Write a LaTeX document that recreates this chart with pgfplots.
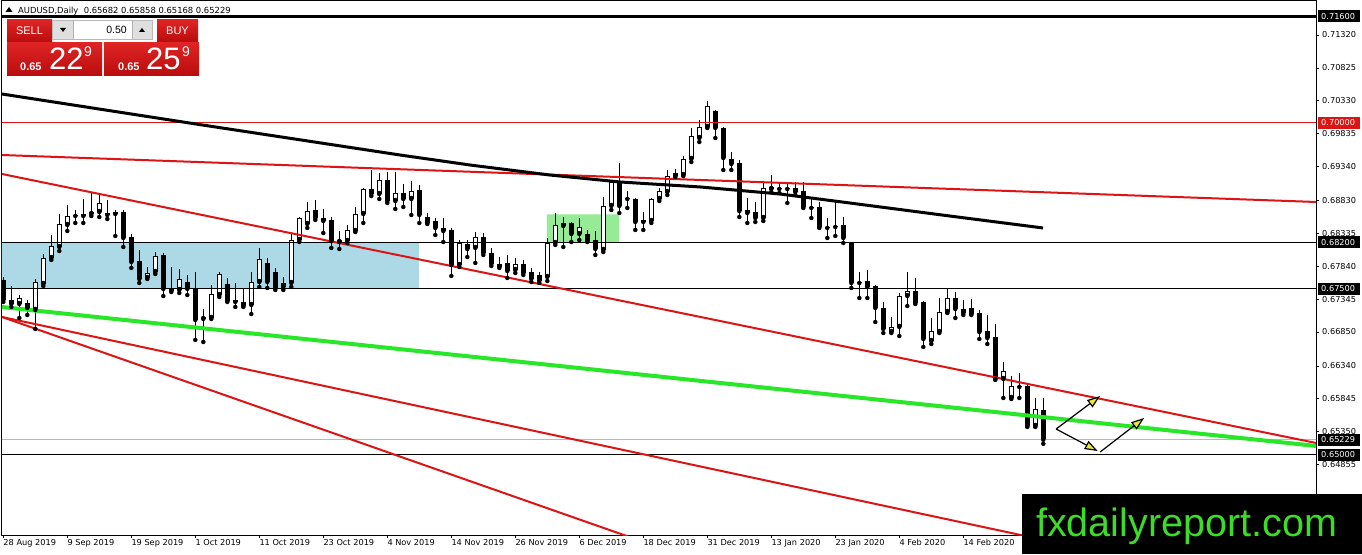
\documentclass[border=0pt]{standalone}
\usepackage{pgfplots}
\pgfplotsset{compat=1.18}
\usepackage{pgfplotstable}
\usepackage{fontspec}
\setmainfont{DejaVu Sans}
\newfontfamily\lib{Liberation Sans}
\usetikzlibrary{arrows.meta}
\definecolor{mtred}{RGB}{220,20,20}
\definecolor{mtgreen}{RGB}{40,230,40}
\definecolor{boxblue}{RGB}{173,216,230}
\definecolor{boxgreen}{RGB}{150,236,150}
\definecolor{wmgreen}{RGB}{60,220,40}
\definecolor{arrowyellow}{RGB}{235,235,40}
\definecolor{btnA}{RGB}{222,36,36}
\definecolor{btnB}{RGB}{185,12,12}
\definecolor{lightgr}{RGB}{185,185,185}

\pgfplotstableread{
i o h l c
0 0.67633 0.67678 0.67302 0.67332
1 0.67332 0.67543 0.67227 0.67272
3 0.67287 0.67332 0.67106 0.67212
9 0.68611 0.68687 0.68491 0.68596
10 0.68626 0.68852 0.68491 0.68596
13 0.68641 0.68837 0.68551 0.68611
14 0.68656 0.68687 0.68295 0.68626
15 0.68656 0.68687 0.68130 0.68265
16 0.68280 0.68325 0.67814 0.67904
17 0.67919 0.68085 0.67588 0.67648
20 0.68009 0.68039 0.67392 0.67498
21 0.67513 0.67829 0.67452 0.67467
23 0.67603 0.67708 0.67407 0.67498
24 0.67498 0.67753 0.66730 0.67031
28 0.67573 0.67663 0.67302 0.67317
29 0.67332 0.67588 0.67227 0.67302
30 0.67302 0.67513 0.67227 0.67242
33 0.67889 0.67964 0.67513 0.67603
34 0.67753 0.67814 0.67483 0.67513
39 0.68687 0.68837 0.68536 0.68566
40 0.68566 0.68702 0.68340 0.68521
41 0.68536 0.68581 0.68115 0.68220
46 0.69003 0.69289 0.68897 0.68927
48 0.69138 0.69258 0.68792 0.68822
50 0.68942 0.69078 0.68732 0.68852
52 0.68988 0.69063 0.68491 0.68611
53 0.68581 0.68641 0.68476 0.68491
54 0.68521 0.68566 0.68310 0.68416
55 0.68416 0.68566 0.68205 0.68370
56 0.68386 0.68416 0.67693 0.67859
58 0.68175 0.68235 0.67979 0.68100
60 0.68280 0.68340 0.68009 0.68039
61 0.68039 0.68115 0.67844 0.67874
62 0.67874 0.67979 0.67814 0.67829
63 0.67889 0.68009 0.67663 0.67768
65 0.67874 0.67934 0.67708 0.67738
66 0.67753 0.67814 0.67603 0.67648
67 0.67708 0.67753 0.67588 0.67618
70 0.68491 0.68581 0.68130 0.68446
71 0.68491 0.68506 0.68205 0.68325
73 0.68325 0.68386 0.68205 0.68220
74 0.68235 0.68370 0.68009 0.68100
77 0.69108 0.69394 0.68641 0.68747
78 0.68867 0.68972 0.68717 0.68852
79 0.68852 0.68867 0.68386 0.68506
80 0.68536 0.68656 0.68386 0.68506
89 0.70176 0.70191 0.69770 0.69921
90 0.69921 0.69936 0.69289 0.69469
91 0.69454 0.69559 0.69289 0.69379
92 0.69394 0.69439 0.68581 0.68671
93 0.68687 0.68867 0.68491 0.68641
94 0.68656 0.68807 0.68506 0.68566
97 0.69018 0.69108 0.68942 0.69003
98 0.69018 0.69093 0.68792 0.69003
99 0.69018 0.69108 0.68912 0.68957
100 0.68972 0.69108 0.68717 0.68732
101 0.68732 0.68882 0.68566 0.68717
102 0.68732 0.68807 0.68416 0.68431
103 0.68431 0.68566 0.68265 0.68416
104 0.68446 0.68807 0.68295 0.68431
105 0.68461 0.68581 0.68190 0.68265
106 0.68190 0.68205 0.67513 0.67588
107 0.67603 0.67753 0.67362 0.67588
108 0.67618 0.67784 0.67362 0.67528
109 0.67543 0.67558 0.67001 0.67212
110 0.67212 0.67302 0.66835 0.66896
114 0.67467 0.67663 0.67272 0.67287
115 0.67302 0.67317 0.66625 0.66745
119 0.67362 0.67452 0.67061 0.67197
120 0.67197 0.67332 0.67106 0.67136
121 0.67212 0.67347 0.67106 0.67121
122 0.67136 0.67182 0.66745 0.66850
123 0.66865 0.67106 0.66670 0.66760
124 0.66775 0.66971 0.66128 0.66143
127 0.66038 0.66233 0.65857 0.66023
128 0.66038 0.66068 0.65421 0.65436
130 0.65682 0.65858 0.65168 0.65229
}\bear

\pgfplotstableread{
i o h l c
2 0.67272 0.67407 0.67061 0.67362
4 0.67182 0.67648 0.66896 0.67603
5 0.67573 0.68024 0.67543 0.67964
6 0.67964 0.68310 0.67934 0.68145
7 0.68130 0.68626 0.68069 0.68476
8 0.68461 0.68762 0.68370 0.68596
11 0.68626 0.68942 0.68596 0.68656
12 0.68656 0.68912 0.68581 0.68792
18 0.67663 0.67829 0.67648 0.67738
19 0.67753 0.68054 0.67723 0.67994
22 0.67483 0.67799 0.67437 0.67648
25 0.67046 0.67197 0.66700 0.67076
26 0.67061 0.67558 0.67046 0.67422
27 0.67407 0.67753 0.67377 0.67723
31 0.67257 0.67753 0.67121 0.67603
32 0.67603 0.68115 0.67528 0.67949
35 0.67528 0.67678 0.67483 0.67588
36 0.67588 0.68325 0.67528 0.68235
37 0.68235 0.68581 0.68205 0.68566
38 0.68476 0.68807 0.68416 0.68671
42 0.68205 0.68370 0.68100 0.68235
43 0.68220 0.68461 0.68190 0.68386
44 0.68370 0.68732 0.68355 0.68626
45 0.68626 0.69018 0.68491 0.69003
47 0.68927 0.69243 0.68852 0.69138
49 0.68822 0.69258 0.68702 0.68942
51 0.68852 0.69123 0.68611 0.68972
57 0.67859 0.68235 0.67829 0.68190
59 0.68115 0.68355 0.67889 0.68280
64 0.67784 0.67964 0.67738 0.67874
68 0.67678 0.68265 0.67618 0.68190
69 0.68190 0.68641 0.68160 0.68461
72 0.68325 0.68566 0.68235 0.68431
75 0.68085 0.68882 0.68054 0.68747
76 0.68747 0.69138 0.68687 0.69108
81 0.68521 0.68867 0.68491 0.68852
82 0.68852 0.69018 0.68822 0.68972
83 0.68957 0.69289 0.68912 0.69198
84 0.69198 0.69304 0.69183 0.69243
85 0.69213 0.69499 0.69198 0.69454
86 0.69454 0.69921 0.69409 0.69800
87 0.69770 0.70041 0.69710 0.69936
88 0.69936 0.70327 0.69921 0.70252
95 0.68566 0.69093 0.68521 0.69018
96 0.69003 0.69213 0.68957 0.69033
111 0.66850 0.67076 0.66835 0.66926
112 0.66926 0.67437 0.66790 0.67392
113 0.67392 0.67753 0.67242 0.67467
116 0.66715 0.67061 0.66670 0.66865
117 0.66850 0.67362 0.66835 0.67151
118 0.67151 0.67513 0.67136 0.67362
125 0.66143 0.66399 0.65857 0.66263
126 0.65857 0.66188 0.65842 0.66038
129 0.65436 0.65857 0.65421 0.65692
}\bull

\begin{document}
\begin{tikzpicture}[x=1pt,y=1pt]
\useasboundingbox (0,0) rectangle (1362,554);
\fill[white] (0,0) rectangle (1362,554);
\begin{axis}[
  at={(2pt,19pt)}, anchor=south west,
  scale only axis, width=1314pt, height=534pt,
  xmin=-0.1625, xmax=164.0875, ymin=0.63795, ymax=0.71832,
  axis line style={black, line width=1pt},
  tick align=outside, major tick length=3pt,
  tick style={black, line width=0.8pt},
  xtick pos=bottom, ytick pos=right, yticklabel pos=right,
  xtick={0,8,...,120},
  xticklabels={28 Aug 2019, 9 Sep 2019, 19 Sep 2019, 1 Oct 2019, 11 Oct 2019, 23 Oct 2019, 4 Nov 2019, 14 Nov 2019, 26 Nov 2019, 6 Dec 2019, 18 Dec 2019, 31 Dec 2019, 13 Jan 2020, 23 Jan 2020, 4 Feb 2020, 14 Feb 2020},
  ytick={0.64360,0.64855,0.65350,0.65845,0.66340,0.66850,0.67345,0.67840,0.68335,0.68830,0.69340,0.69835,0.70330,0.70825,0.71320},
  scaled y ticks=false,
  yticklabel style={/pgf/number format/fixed, /pgf/number format/fixed zerofill, /pgf/number format/precision=5, /pgf/number format/assume math mode=true, anchor=west, inner sep=0pt, xshift=3pt},
  xticklabel style={anchor=north west, inner sep=0pt, yshift=-1pt},
  every tick label/.append style={font=\fontsize{8.2}{9}\selectfont},
]
% rectangles
\addplot[fill=boxblue, draw=none] coordinates {(-1,0.675) (51.96,0.675) (51.96,0.682) (-1,0.682) (-1,0.675)};
\addplot[fill=boxgreen, draw=none] coordinates {(67.96,0.682) (76.96,0.682) (76.96,0.6862) (67.96,0.6862) (67.96,0.682)};
% candles: wicks
\addplot[only marks, mark=none, error bars/.cd, y dir=plus, y explicit, error mark=none, error bar style={black, line width=1pt}] table[x=i, y=l, y error expr=\thisrow{h}-\thisrow{l}] {\bear};
\addplot[only marks, mark=none, error bars/.cd, y dir=plus, y explicit, error mark=none, error bar style={black, line width=1pt}] table[x=i, y=l, y error expr=\thisrow{h}-\thisrow{l}] {\bull};
% bear bodies
\addplot[only marks, mark=none, error bars/.cd, y dir=plus, y explicit, error mark=none, error bar style={black, line width=5pt}] table[x=i, y=c, y error expr=\thisrow{o}-\thisrow{c}] {\bear};
% bull bodies
\addplot[only marks, mark=none, error bars/.cd, y dir=plus, y explicit, error mark=none, error bar style={black, line width=5pt}] table[x=i, y=o, y error expr=\thisrow{c}-\thisrow{o}] {\bull};
\addplot[only marks, mark=none, error bars/.cd, y dir=plus, y explicit, error mark=none, error bar style={white, line width=3pt}] table[x=i, y expr=\thisrow{o}+0.00015, y error expr=\thisrow{c}-\thisrow{o}-0.0003] {\bull};
% horizontal levels
\addplot[black, line width=3pt] coordinates {(-1,0.716) (170,0.716)};
\addplot[mtred, line width=1pt] coordinates {(-1,0.70) (170,0.70)};
\addplot[black, line width=1pt] coordinates {(-1,0.682) (170,0.682)};
\addplot[black, line width=1pt] coordinates {(-1,0.675) (170,0.675)};
\addplot[black, line width=1pt] coordinates {(-1,0.65) (170,0.65)};
\addplot[lightgr, line width=1pt] coordinates {(-1,0.65229) (170,0.65229)};
% trend lines
\addplot[mtred, line width=2pt] coordinates {(-0.16,0.69514) (164.09,0.68807)};
\addplot[mtred, line width=2pt] coordinates {(-0.16,0.69228) (164.09,0.65180)};
\addplot[mtred, line width=2pt] coordinates {(-0.16,0.67076) (87.1,0.63392)};
\addplot[mtred, line width=2pt] coordinates {(-0.16,0.67076) (137.1,0.63539)};
\addplot[black, line width=3pt] coordinates {(-0.16,0.70432) (24.6,0.69971) (49.6,0.69514) (58.3,0.69364) (68.3,0.69213) (77.1,0.69108) (87.1,0.69033) (97.1,0.68927) (105.8,0.68792) (118.3,0.68596) (129.96,0.68416)};
\addplot[mtgreen, line width=4pt] coordinates {(-0.16,0.67226) (164.09,0.65135)};
% arrows
\addplot[black, line width=1.2pt, -{Triangle[length=13pt, width=9pt, fill=arrowyellow]}] coordinates {(131.6,0.65390) (137.1,0.65887)};
\addplot[black, line width=1.2pt, -{Triangle[length=13pt, width=9pt, fill=arrowyellow]}] coordinates {(131.6,0.65390) (136.8,0.65059)};
\addplot[black, line width=1.2pt, -{Triangle[length=13pt, width=9pt, fill=arrowyellow]}] coordinates {(137.1,0.65044) (142.6,0.65556)};
% anchors for price boxes
\coordinate (p716) at (axis cs:164.0875,0.716);
\coordinate (p700) at (axis cs:164.0875,0.700);
\coordinate (p682) at (axis cs:164.0875,0.682);
\coordinate (p675) at (axis cs:164.0875,0.675);
\coordinate (p652) at (axis cs:164.0875,0.65229);
\coordinate (p650) at (axis cs:164.0875,0.650);
\end{axis}
% price boxes
\foreach \p/\t/\col in {p716/0.71600/black, p700/0.70000/mtred, p682/0.68200/black, p675/0.67500/black, p652/0.65229/black, p650/0.65000/black}{
  \fill[\col] ([xshift=2pt,yshift=-6pt]\p) rectangle ([xshift=44pt,yshift=6pt]\p);
  \node[white, anchor=west, inner sep=0pt, font=\fontsize{8.2}{9}\selectfont] at ([xshift=5pt]\p) {\t};
}
% header
\fill[black] (5.5,542) -- (12.5,542) -- (9,547) -- cycle;
\node[anchor=base west, inner sep=0pt, font=\fontsize{8.4}{9}\selectfont] at (18,540) {AUDUSD,Daily\ \ 0.65682 0.65858 0.65168 0.65229};
% trade panel
\shade[top color=btnA, bottom color=btnB] (7,534) rectangle (52,512);
\shade[top color=btnA, bottom color=btnB] (157,534) rectangle (198,512);
\fill[white] (52,534) rectangle (153,514);
\draw[lightgr] (52.5,533.5) rectangle (152.5,514.5);
\fill[gray!25] (53,533) rectangle (73,515);
\fill[gray!25] (132,533) rectangle (152,515);
\draw[gray!60] (73,533) -- (73,515) (132,533) -- (132,515);
\fill[black] (60,526) -- (66,526) -- (63,522) -- cycle;
\fill[black] (139,522) -- (145,522) -- (142,526) -- cycle;
\node[anchor=base east, inner sep=0pt, font=\lib\fontsize{10.5}{11}\selectfont] at (127,520) {0.50};
\node[anchor=base, white, inner sep=0pt, font=\lib\fontsize{11}{12}\selectfont] at (29.5,519) {SELL};
\node[anchor=base, white, inner sep=0pt, font=\lib\fontsize{11}{12}\selectfont] at (177.5,519) {BUY};
\shade[top color=btnA, bottom color=btnB] (7,511) rectangle (102,478);
\shade[top color=btnA, bottom color=btnB] (104,511) rectangle (199,478);
\node[anchor=base west, white, inner sep=0pt, font=\lib\bfseries\fontsize{11}{12}\selectfont] at (20,483) {0.65};
\node[anchor=base west, white, inner sep=0pt, font=\lib\fontsize{31}{32}\selectfont] at (49,484) {22};
\node[anchor=base west, white, inner sep=0pt, font=\lib\fontsize{14}{15}\selectfont] at (84,497) {9};
\node[anchor=base west, white, inner sep=0pt, font=\lib\bfseries\fontsize{11}{12}\selectfont] at (118,483) {0.65};
\node[anchor=base west, white, inner sep=0pt, font=\lib\fontsize{31}{32}\selectfont] at (146,484) {25};
\node[anchor=base west, white, inner sep=0pt, font=\lib\fontsize{14}{15}\selectfont] at (182,497) {9};
% watermark
\fill[black] (1022,0) rectangle (1362,60);
\node[anchor=base west, inner sep=0pt, text=wmgreen, font=\lib\fontsize{39.5}{40}\selectfont] at (1036,17) {fxdailyreport.com};
\end{tikzpicture}
\end{document}
